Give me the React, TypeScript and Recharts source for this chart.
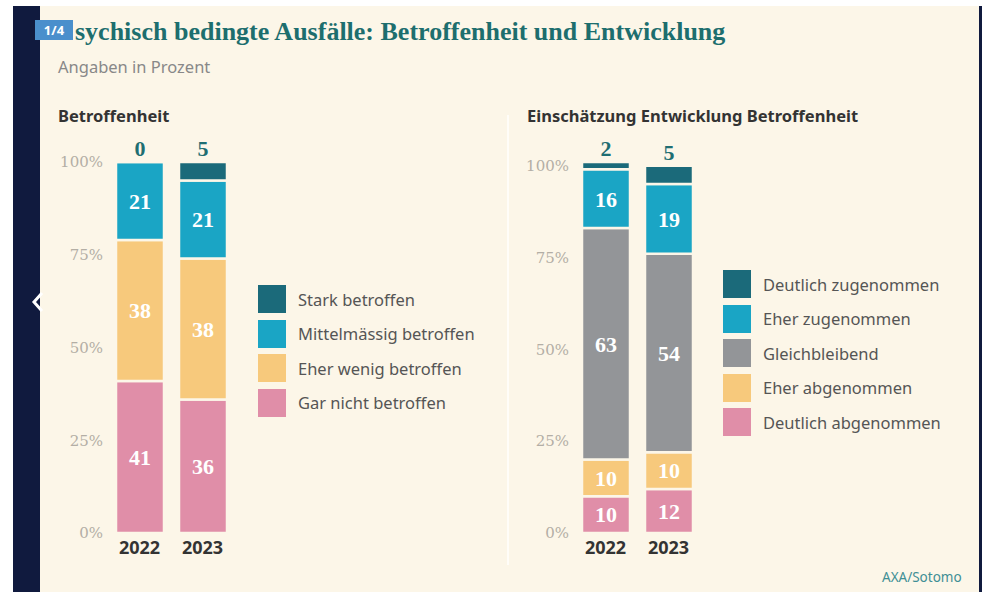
import React from 'react'
import { BarChart, Bar, XAxis, YAxis, LabelList } from 'recharts'

// Betroffenheit
const years = ['2022', '2023']
const leftKeys = ['gar', 'wenig', 'mittel', 'stark']
const leftNames = ['Gar nicht betroffen', 'Eher wenig betroffen', 'Mittelmässig betroffen', 'Stark betroffen']
const leftColors = ['#e08ea8', '#f7c97c', '#1aa5c5', '#1b6a7a']
const garValues = [41, 36]
const wenigValues = [38, 38]
const mittelValues = [21, 21]
const starkValues = [0, 5]

// Einschätzung Entwicklung Betroffenheit
const rightKeys = ['dAb', 'eAb', 'gleich', 'eZu', 'dZu']
const rightNames = ['Deutlich abgenommen', 'Eher abgenommen', 'Gleichbleibend', 'Eher zugenommen', 'Deutlich zugenommen']
const rightColors = ['#e08ea8', '#f7c97c', '#939598', '#1aa5c5', '#1b6a7a']
const dAbValues = [10, 12]
const eAbValues = [10, 10]
const gleichValues = [63, 54]
const eZuValues = [16, 19]
const dZuValues = [2, 5]

const yTicks = [0, 25, 50, 75, 100]

const leftData = years.map((y, i) => ({
  year: y,
  gar: garValues[i],
  wenig: wenigValues[i],
  mittel: mittelValues[i],
  stark: starkValues[i],
}))

const rightData = years.map((y, i) => ({
  year: y,
  dAb: dAbValues[i],
  eAb: eAbValues[i],
  gleich: gleichValues[i],
  eZu: eZuValues[i],
  dZu: dZuValues[i],
}))

const BG = '#fcf6e8'
const SANS = '"Noto Sans", "Open Sans", sans-serif'
const SERIF = '"Liberation Serif", "DejaVu Serif", serif'

// label above the top segment (drawn even when the segment is 0)
const TopLabel = (p: any) => (
  <text
    x={p.x + p.width / 2}
    y={p.y - 6}
    textAnchor="middle"
    fill="#1f6e72"
    style={{ fontFamily: SERIF, fontWeight: 700, fontSize: 22 }}
  >
    {p.value}
  </text>
)

function StackChart({ data, keys, colors, left }: { data: any[]; keys: string[]; colors: string[]; left: number }) {
  return (
    <div style={{ position: 'absolute', left, top: 120 }}>
      <BarChart
        width={196}
        height={447}
        data={data}
        margin={{ top: 42, right: 2, bottom: 0, left: 0 }}
        barSize={48}
      >
        <XAxis
          dataKey="year"
          axisLine={false}
          tickLine={false}
          height={34}
          tick={{ fill: '#333', fontSize: 18, fontWeight: 700, fontFamily: SANS }}
        />
        <YAxis
          type="number"
          domain={[0, 100]}
          ticks={yTicks}
          axisLine={false}
          tickLine={false}
          tickSize={0}
          tickMargin={5}
          width={68}
          tickFormatter={(v) => `${v}%`}
          tick={{ fill: '#b3aea5', fontSize: 15, fontFamily: '"DejaVu Serif", serif' }}
        />
        {keys.map((k, i) => {
          const isTop = i === keys.length - 1
          return (
            <Bar
              key={k}
              dataKey={k}
              stackId="a"
              fill={colors[i]}
              stroke={BG}
              strokeWidth={2.5}
              minPointSize={isTop ? 0.5 : 0}
              isAnimationActive={false}
            >
              {isTop ? (
                <LabelList dataKey={k} content={TopLabel} />
              ) : (
                <LabelList
                  dataKey={k}
                  position="center"
                  fill="#ffffff"
                  style={{ fontFamily: SERIF, fontWeight: 700, fontSize: 22 }}
                />
              )}
            </Bar>
          )
        })}
      </BarChart>
    </div>
  )
}

function LegendBox({ names, colors, left, top }: { names: string[]; colors: string[]; left: number; top: number }) {
  const rows = names.map((n, i) => ({ n, c: colors[i] })).reverse()
  return (
    <div style={{ position: 'absolute', left, top }}>
      {rows.map((r) => (
        <div key={r.n} style={{ display: 'flex', alignItems: 'center', height: 34.5 }}>
          <div style={{ width: 28, height: 28, background: r.c, marginRight: 12 }} />
          <span style={{ fontFamily: SANS, fontSize: 16.5, color: '#555', whiteSpace: 'nowrap' }}>{r.n}</span>
        </div>
      ))}
    </div>
  )
}

export default function App() {
  return (
    <div style={{ position: 'absolute', left: 0, top: 0, width: 982, height: 592, background: '#fff', overflow: 'hidden' }}>
      <div style={{ position: 'absolute', left: 40, top: 6, width: 940, height: 586, background: BG }} />
      <div style={{ position: 'absolute', left: 13, top: 6, width: 27, height: 586, background: '#101a3e' }} />
      <div style={{ position: 'absolute', left: 979, top: 6, width: 3, height: 586, background: '#101a3e' }} />

      <div
        style={{
          position: 'absolute', left: 75, top: 17, fontFamily: SERIF, fontWeight: 700,
          fontSize: 26, color: '#1d6e6e', whiteSpace: 'nowrap',
        }}
      >
        sychisch bedingte Ausfälle: Betroffenheit und Entwicklung
      </div>
      <div
        style={{
          position: 'absolute', left: 35, top: 20, width: 38, height: 20, background: '#4a8fcc',
          color: '#fff', fontFamily: SANS, fontWeight: 700, fontSize: 13, lineHeight: '20px', textAlign: 'center',
        }}
      >
        1/4
      </div>
      <div style={{ position: 'absolute', left: 58, top: 55, fontFamily: SANS, fontSize: 16.5, color: '#888' }}>
        Angaben in Prozent
      </div>

      <div style={{ position: 'absolute', left: 58, top: 104, fontFamily: SANS, fontSize: 16.5, fontWeight: 700, color: '#333' }}>
        Betroffenheit
      </div>
      <div style={{ position: 'absolute', left: 527, top: 104, fontFamily: SANS, fontSize: 16.5, fontWeight: 700, color: '#333', whiteSpace: 'nowrap' }}>
        Einschätzung Entwicklung Betroffenheit
      </div>

      <div style={{ position: 'absolute', left: 507, top: 115, width: 2, height: 450, background: '#fffdf8' }} />

      <StackChart data={leftData} keys={leftKeys} colors={leftColors} left={40} />
      <StackChart data={rightData} keys={rightKeys} colors={rightColors} left={506} />

      <LegendBox names={leftNames} colors={leftColors} left={258} top={282} />
      <LegendBox names={rightNames} colors={rightColors} left={723} top={267} />

      <svg style={{ position: 'absolute', left: 30, top: 290 }} width={16} height={24}>
        <polyline points="12,3 4,12 12,21" fill="none" stroke="#fff" strokeWidth={3} />
      </svg>

      <div style={{ position: 'absolute', left: 882, top: 568, fontFamily: SANS, fontSize: 13.5, color: '#3f8f95' }}>
        AXA/Sotomo
      </div>
    </div>
  )
}
